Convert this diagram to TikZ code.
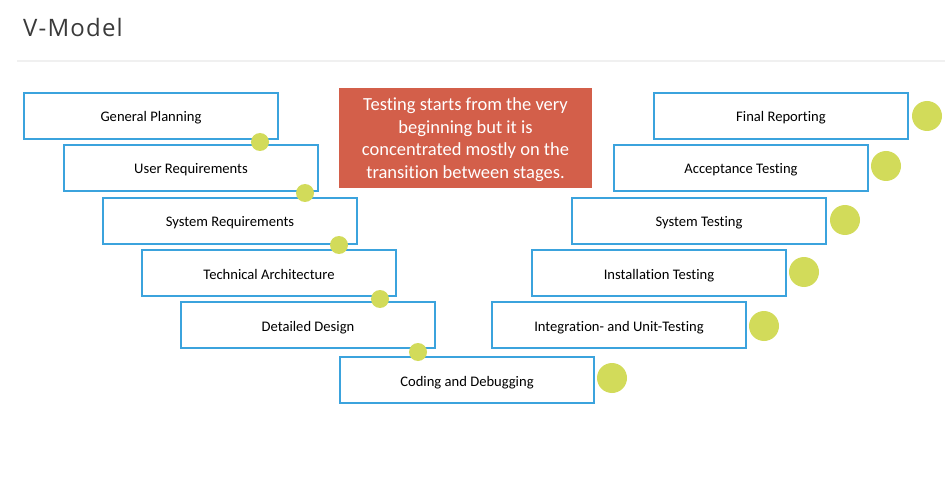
\documentclass[tikz,border=0pt]{standalone}
\usepackage{fontspec}
\setmainfont{Carlito}[Ligatures=NoCommon]
\newfontfamily\titlefont[LetterSpace=5]{Open Sans}
\definecolor{boxblue}{HTML}{3BA3DD}
\definecolor{dotgreen}{HTML}{D2DB5A}
\definecolor{notered}{HTML}{D35F4A}
\definecolor{rulegray}{HTML}{F0F0F0}
\definecolor{titlegray}{HTML}{3A3A3A}
\begin{document}
\begin{tikzpicture}[x=1pt,y=-1pt,
  stage/.style={draw=boxblue,line width=1.3pt,fill=white,minimum width=254pt,minimum height=46pt,
    inner sep=0pt,text height=13.5pt,text depth=1.5pt,font=\fontsize{14.6}{16}\selectfont,text=black},
  smalldot/.style={circle,fill=dotgreen,minimum size=18pt,inner sep=0pt},
  bigdot/.style={circle,fill=dotgreen,minimum size=30pt,inner sep=0pt},
  note/.style={fill=notered,text=white,minimum width=253pt,minimum height=100pt,inner sep=0pt,
    font=\fontsize{18.5}{22.5}\selectfont}]
\useasboundingbox (0,0) rectangle (945,489);
% heading and rule
\node[anchor=base west,inner sep=0pt,font=\titlefont\fontsize{24}{28}\selectfont,text=titlegray] (title) at (23,37) {V-Model};
\draw[rulegray,line width=2pt] (17,61) -- (945,61);
% left branch of the V
\node[stage] (gp) at (151,116) {General Planning};
\node[stage] (ur) at (191,168) {User Requirements};
\node[stage] (sr) at (230,221) {System Requirements};
\node[stage] (ta) at (269,273) {Technical Architecture};
\node[stage] (dd) at (308,325) {Detailed Design};
\node[stage] (cd) at (467,380) {Coding and Debugging};
% right branch of the V
\node[stage] (fr) at (781,116) {Final Reporting};
\node[stage] (acc) at (741,168) {Acceptance Testing};
\node[stage] (st) at (699,221) {System Testing};
\node[stage] (it) at (659,273) {Installation Testing};
\node[stage] (iu) at (619,325) {Integration- and Unit-Testing};
% transition markers
\node[smalldot] (t1) at (260,142) {};
\node[smalldot] (t2) at (305,193) {};
\node[smalldot] (t3) at (339,245) {};
\node[smalldot] (t4) at (380,299) {};
\node[smalldot] (t5) at (418,352) {};
\node[bigdot] (q1) at (927,116) {};
\node[bigdot] (q2) at (886,166) {};
\node[bigdot] (q3) at (845,220) {};
\node[bigdot] (q4) at (804,272) {};
\node[bigdot] (q5) at (764,326) {};
\node[bigdot] (q6) at (612,378) {};
% note
\node[note] (nt) at (465.5,138) {\raisebox{-6pt}[0pt][0pt]{\parbox{253pt}{\centering Testing starts from the very\\beginning but it is\\concentrated mostly on the\\transition between stages.}}};
\end{tikzpicture}
\end{document}
